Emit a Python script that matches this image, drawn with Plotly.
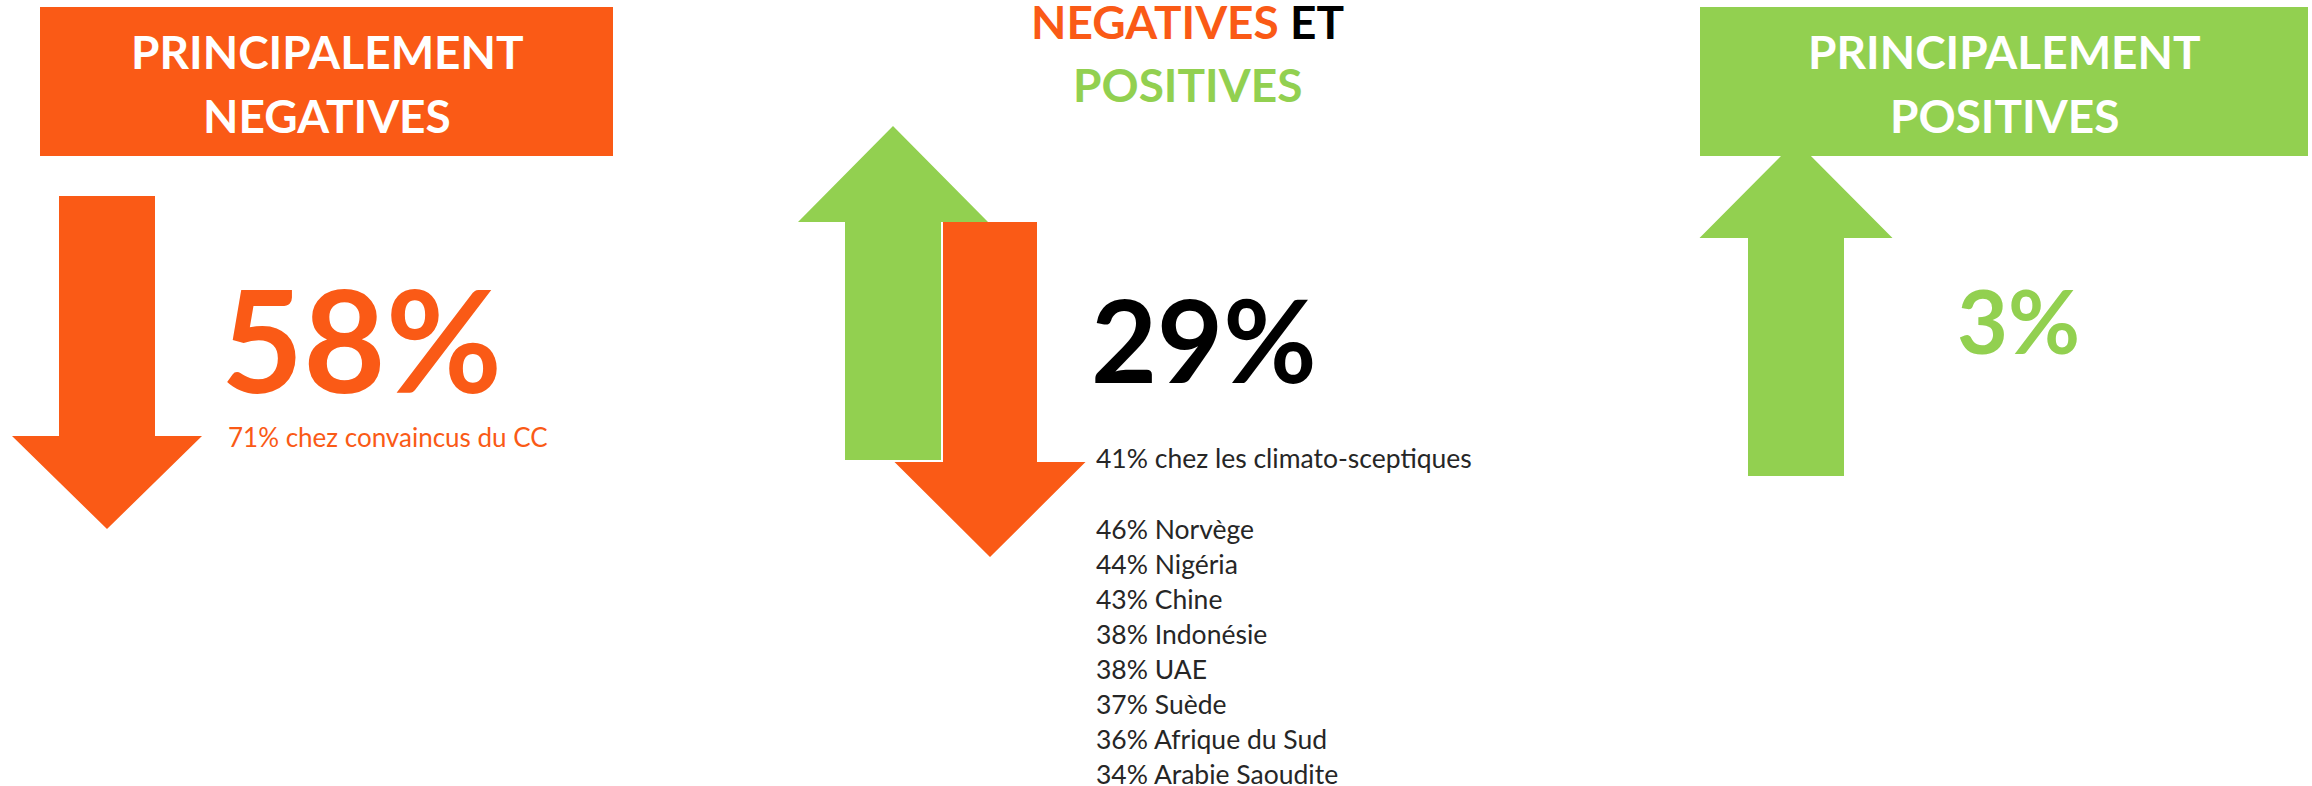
import plotly.graph_objects as go

# data
categories = ["PRINCIPALEMENT<br>NEGATIVES", "NEGATIVES ET<br>POSITIVES", "PRINCIPALEMENT<br>POSITIVES"]
shares = [58, 29, 3]
notes = ["71% chez convaincus du CC", "41% chez les climato-sceptiques", ""]
countries = ["Norvège", "Nigéria", "Chine", "Indonésie", "UAE", "Suède", "Afrique du Sud", "Arabie Saoudite"]
country_shares = [46, 44, 43, 38, 38, 37, 36, 34]

ORANGE = "#FA5A16"
GREEN = "#92D050"
DARK = "#262626"
W, H = 2312, 786
FONT = "Lato"

fig = go.Figure()


def arrow(cx, shaft_w, head_w, y0, y_base, y_tip):
    # polygon path for a vertical block arrow
    s, h = shaft_w / 2, head_w / 2
    pts = [(cx - s, y0), (cx + s, y0), (cx + s, y_base), (cx + h, y_base),
           (cx, y_tip), (cx - h, y_base), (cx - s, y_base)]
    return "M " + " L ".join(f"{x},{y}" for x, y in pts) + " Z"


def txt(x, y, text, size, color, bold=False, anchor="left"):
    fig.add_annotation(x=x, y=y, xref="x", yref="y", text=text, showarrow=False,
                       xanchor=anchor, yanchor="middle",
                       font=dict(family=FONT, size=size, color=color,
                                 weight="bold" if bold else "normal"))


shapes = []
# left: orange header and down arrow
shapes.append(dict(type="path", path=arrow(107, 96, 190, 196, 436, 529), fillcolor=ORANGE, line_width=0))
shapes.append(dict(type="rect", x0=40, x1=613, y0=7, y1=156, fillcolor=ORANGE, line_width=0))
# middle: green up arrow behind orange down arrow
shapes.append(dict(type="path", path=arrow(893, 96, 190, 460, 222, 126), fillcolor=GREEN, line_width=0))
shapes.append(dict(type="path", path=arrow(990, 94, 191, 222, 462, 557), fillcolor=ORANGE, line_width=0))
# right: green up arrow under green header
shapes.append(dict(type="path", path=arrow(1796, 96, 193, 476, 238, 141), fillcolor=GREEN, line_width=0))
shapes.append(dict(type="rect", x0=1700, x1=2308, y0=7, y1=156, fillcolor=GREEN, line_width=0))
for s in shapes:
    s.update(xref="x", yref="y", layer="below")
fig.update_layout(shapes=shapes)

# headers
l1, l2 = categories[0].split("<br>")
txt(327, 51, l1, 46, "white", True, "center")
txt(327, 115, l2, 46, "white", True, "center")
m1, m2 = categories[1].split("<br>")
neg, et = m1.rsplit(" ", 1)
txt(1187, 21, f"<span style='color:{ORANGE}'>{neg}</span> <span style='color:black'>{et}</span>",
    46, ORANGE, True, "center")
txt(1187, 84, m2, 46, GREEN, True, "center")
r1, r2 = categories[2].split("<br>")
txt(2004, 51, r1, 46, "white", True, "center")
txt(2004, 115, r2, 46, "white", True, "center")

# big numbers
txt(219, 338, f"{shares[0]}%", 142, ORANGE, True)
txt(1089, 338, f"{shares[1]}%", 114, "black", True)
txt(1955, 320, f"{shares[2]}%", 88, GREEN, True)

# notes
txt(226, 437, notes[0], 26, ORANGE)
txt(1094, 458, notes[1], 26.5, DARK)
for i, (c, v) in enumerate(zip(countries, country_shares)):
    txt(1094, 529 + i * 35, f"{v}% {c}", 26.5, DARK)

fig.update_xaxes(range=[0, W], visible=False, fixedrange=True)
fig.update_yaxes(range=[H, 0], visible=False, fixedrange=True)
fig.update_layout(width=W, height=H, margin=dict(l=0, r=0, t=0, b=0),
                  plot_bgcolor="white", paper_bgcolor="white", showlegend=False)

fig.write_html("out.html", config={"displayModeBar": False},
               post_script="document.body.style.margin='0';")
